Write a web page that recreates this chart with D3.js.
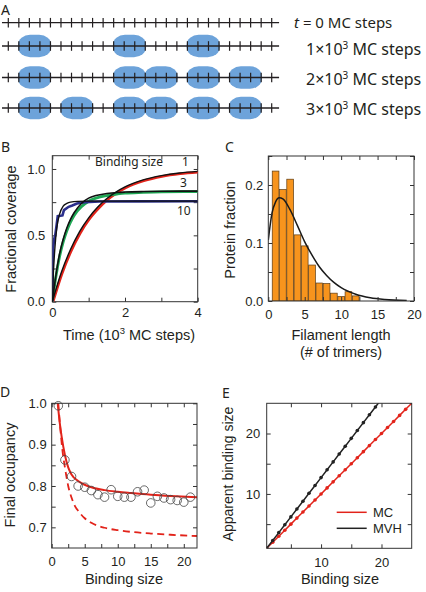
<!DOCTYPE html>
<html><head><meta charset="utf-8">
<script src="https://cdn.jsdelivr.net/npm/d3@7/dist/d3.min.js"></script>
<style>html,body{margin:0;padding:0;background:#fff;}svg{display:block;}</style>
</head><body>
<svg id="fig" width="426" height="592" xmlns="http://www.w3.org/2000/svg"></svg>
<script>
// ================= DATA =================
// Panel A: lattice sites and bound proteins (first covered site, binding size 3)
const aSites = [0,1,2,3,4,5,6,7,8,9,10,11,12,13,14,15,16,17,18,19,20,21,22,23,24,25];
const aRows = ["r0","r1","r2","r3"];
const aBoundStarts = [[], [1,10,17], [1,10,13,17,21], [1,5,10,13,17,21]];
const aBindingSize = 3;
const aRowMantissa = ["", "1", "2", "3"];

// Panel B: fractional coverage vs time (10^3 MC steps)
const bTime1 = [0,0.25,0.5,0.75,1,1.25,1.5,1.75,2,2.5,3,3.5,4];
const bCov1  = [0,0.215,0.385,0.52,0.625,0.705,0.772,0.822,0.862,0.915,0.948,0.968,0.98];
const bFit1  = [0,0.222,0.393,0.528,0.632,0.713,0.777,0.826,0.865,0.918,0.95,0.97,0.982];
const bTime3 = [0,0.1,0.2,0.3,0.4,0.5,0.6,0.8,1.0,1.2,1.5,1.8,2,2.5,3,4];
const bCov3  = [0,0.19,0.34,0.45,0.535,0.6,0.65,0.715,0.757,0.78,0.8,0.812,0.818,0.824,0.828,0.83];
const bFit3  = [0,0.2,0.36,0.47,0.555,0.62,0.67,0.74,0.78,0.8,0.815,0.823,0.826,0.83,0.832,0.833];
const bTime10 = [0,0.02,0.05,0.08,0.12,0.15,0.28,0.32,0.45,0.55,0.68,0.9,1.3,2.4,4];
const bCov10  = [0,0.4,0.47,0.5,0.58,0.645,0.65,0.69,0.715,0.725,0.74,0.75,0.755,0.756,0.757];
const bFitTime10 = [0,0.03,0.07,0.12,0.2,0.3,0.4,0.5,0.7,1,2,4];
const bFit10  = [0,0.22,0.4,0.55,0.66,0.72,0.74,0.75,0.756,0.758,0.758,0.758];
const bSizeLabels = ["1","3","10"];

// Panel C: filament length histogram
const cLength   = [1,2,3,4,5,6,7,8,9,10,11,12];
const cFraction = [0.224,0.192,0.21,0.114,0.095,0.062,0.031,0.03,0.0135,0.0078,0.016,0.0088];
const cFitX = [0,0.5,1,1.5,2,3,4,5,6,7,8,9,10,12,14,16,19];
const cFitY = [0.105,0.151,0.171,0.178,0.176,0.157,0.13,0.102,0.079,0.059,0.044,0.032,0.023,0.0116,0.0055,0.0025,0.0008];

// Panel D: final occupancy vs binding size
const dSize = [1,2,3,4,5,6,7,8,9,10,11,12,13,14,15,16,17,18,19,20,21];
const dOcc  = [0.994,0.863,0.823,0.80,0.797,0.789,0.779,0.773,0.791,0.775,0.773,0.773,0.786,0.79,0.759,0.775,0.771,0.767,0.765,0.761,0.773];
const dSolidX = [0.85,1,1.2,1.5,2,2.5,3,4,5,6,8,10,12,15,18,22];
const dSolidY = [1.01,0.985,0.955,0.92,0.875,0.845,0.828,0.812,0.803,0.797,0.79,0.786,0.783,0.779,0.776,0.773];
const dDashX = [1,1.3,1.6,2,2.5,3,3.5,4,5,6,8,10,12,15,18,22];
const dDashY = [1.0,0.94,0.89,0.845,0.8,0.772,0.752,0.74,0.722,0.711,0.699,0.693,0.689,0.685,0.682,0.679];

// Panel E: apparent binding size
const eSizeMC = [1,2,3,4,5,6,7,8,9,10,11,12,13,14,15,16,17,18,19,20,21,22,23,24,25];
const eMC     = [1,2,3,4,5,6,7,8,9,10,11,12,13,14,15,16,17,18,19,20,21,22,23,24,25];
const eSizeMVH = [1,2,3,4,5,6,7,8,9,10,11,12,13,14,15,16,17,18,19,20];
const eMVH     = [1,2.3,3.6,4.9,6.2,7.5,8.8,10.1,11.4,12.7,14,15.3,16.6,17.9,19.2,20.5,21.8,23.1,24.4,25.7];
const eLegend = ["MC","MVH"];

// ================= STYLE =================
const TFONT = "'Liberation Sans', Arial, Helvetica, sans-serif";
const HFONT = "'Noto Sans', 'Open Sans', sans-serif";
const RED = "#e2231a", GREEN = "#1fa855", NAVY = "#2b2f8c", BLUE_FILL = "#6da3da", ORANGE = "#f7941d";
const INK = "#231f20", FRAME = "#333";
const LABEL_SIZE = 14.5;

const svg = d3.select("#fig");
svg.append("rect").attr("width",426).attr("height",592).attr("fill","#fff");

function panelLetter(t, x, y) {
  svg.append("text").attr("x",x).attr("y",y).text(t)
    .attr("font-family",HFONT).attr("font-size",14).attr("fill",INK);
}

function clip(id, x, y) {
  const [x0,x1] = x.range(), [yb,yt] = y.range();
  svg.append("clipPath").attr("id",id).append("rect")
    .attr("x",x0).attr("y",yt).attr("width",x1-x0).attr("height",yb-yt);
  return `url(#${id})`;
}

function drawAxes(x, y, cfg) {
  const g = svg.append("g");
  const [x0,x1] = x.range(), [yb,yt] = y.range();
  const tk = 4;
  const fx = d => cfg.xLab.includes(d) ? cfg.xFmt(d) : "";
  const fy = d => cfg.yLab.includes(d) ? cfg.yFmt(d) : "";
  const axes = [
    [d3.axisBottom(x).tickValues(cfg.xTicks).tickSize(-tk).tickPadding(cfg.xPad).tickFormat(fx), `translate(0,${yb})`],
    [d3.axisTop(x).tickValues(cfg.xTicks).tickSize(-tk).tickFormat(""), `translate(0,${yt})`],
    [d3.axisLeft(y).tickValues(cfg.yTicks).tickSize(-tk).tickPadding(cfg.yPad).tickFormat(fy), `translate(${x0},0)`],
    [d3.axisRight(y).tickValues(cfg.yTicks).tickSize(-tk).tickFormat(""), `translate(${x1},0)`]
  ];
  axes.forEach(([ax,tr]) => {
    const a = g.append("g").attr("transform",tr).call(ax);
    a.select(".domain").remove();
    a.selectAll("line").attr("stroke",FRAME).attr("stroke-width",1);
    a.selectAll("text").attr("font-family",TFONT).attr("font-size",13).attr("fill",INK);
  });
  g.append("rect").attr("x",x0).attr("y",yt).attr("width",x1-x0).attr("height",yb-yt)
    .attr("fill","none").attr("stroke",FRAME).attr("stroke-width",1);
  return g;
}

function yLabel(text, x, y, size) {
  svg.append("text").attr("transform",`translate(${x},${y}) rotate(-90)`)
    .attr("text-anchor","middle").attr("font-family",TFONT).attr("font-size",size || LABEL_SIZE).attr("fill",INK).text(text);
}
function xLabel(text, x, y) {
  return svg.append("text").attr("x",x).attr("y",y)
    .attr("text-anchor","middle").attr("font-family",TFONT).attr("font-size",LABEL_SIZE).attr("fill",INK).text(text);
}

// ================= PANEL A =================
panelLetter("A", 1, 15);
const aX = d3.scaleLinear().domain([0,25]).range([8.3,271.7]);
const aY = d3.scaleOrdinal().domain(aRows).range([22.7,46,77.5,108]);
const aG = svg.append("g");
aRows.forEach((r,i) => {
  const yy = aY(r);
  const w = aX(aBindingSize) - aX(0) + 1.5;
  aG.selectAll(null).data(aBoundStarts[i]).join("rect")
    .attr("x", s => aX(s + aBindingSize/2) - w/2).attr("y", yy - 11.2)
    .attr("width", w).attr("height", 22.4)
    .attr("rx", 12).attr("ry", 10)
    .attr("fill", BLUE_FILL);
  aG.append("line").attr("x1",aX(-0.6)).attr("x2",aX(25.7)).attr("y1",yy).attr("y2",yy)
    .attr("stroke",INK).attr("stroke-width",1.3);
  aG.selectAll(null).data(aSites).join("line")
    .attr("x1",d=>aX(d)).attr("x2",d=>aX(d)).attr("y1",yy-4.8).attr("y2",yy+4.8)
    .attr("stroke",INK).attr("stroke-width",1.2);
});
// row labels
{
  const t0 = svg.append("text").attr("x",294).attr("y",27.5)
    .attr("font-family",HFONT).attr("font-size",15).attr("fill",INK);
  t0.append("tspan").attr("font-style","italic").text("t");
  t0.append("tspan").text(" = 0 MC steps");
  const ys = [27.5, 55, 85, 115];
  for (let i = 1; i < 4; i++) {
    const t = svg.append("text").attr("x",306).attr("y",ys[i])
      .attr("font-family",HFONT).attr("font-size",16).attr("fill",INK);
    t.append("tspan").text(aRowMantissa[i] + "\u00d710");
    t.append("tspan").attr("dy",-6.5).attr("font-size",10).text("3");
    t.append("tspan").attr("dy",6.5).text(" MC steps");
  }
}

// ================= PANEL B =================
panelLetter("B", 1, 152);
const bX = d3.scaleLinear().domain([0,4]).range([52.3,197.7]);
const bY = d3.scaleLinear().domain([0,1.1]).range([301.7,155.7]);
drawAxes(bX, bY, {xTicks:[0,1,2,3,4], xLab:[0,2,4], xFmt:d3.format("d"), xPad:6,
  yTicks:[0,0.25,0.5,0.75,1], yLab:[0,0.5,1], yFmt:d3.format(".1f"), yPad:7});
const bClip = clip("clipB", bX, bY);
const bLine = (xs, ys, curve) => d3.line().x((d,i)=>bX(xs[i])).y(d=>bY(d)).curve(curve)(ys);
const bG = svg.append("g").attr("clip-path", bClip);
bG.append("path").attr("d", bLine(bTime1,bCov1,d3.curveMonotoneX)).attr("fill","none").attr("stroke",RED).attr("stroke-width",2.6).attr("transform","translate(0.6,0.6)");
bG.append("path").attr("d", bLine(bTime3,bCov3,d3.curveMonotoneX)).attr("fill","none").attr("stroke",GREEN).attr("stroke-width",2.8);
bG.append("path").attr("d", bLine(bTime10,bCov10,d3.curveLinear)).attr("fill","none").attr("stroke",NAVY).attr("stroke-width",2.6);
bG.append("path").attr("d", bLine(bTime1,bFit1,d3.curveMonotoneX)).attr("fill","none").attr("stroke","#111").attr("stroke-width",1.4);
bG.append("path").attr("d", bLine(bTime3,bFit3,d3.curveMonotoneX)).attr("fill","none").attr("stroke","#111").attr("stroke-width",1.6);
bG.append("path").attr("d", bLine(bFitTime10,bFit10,d3.curveMonotoneX)).attr("fill","none").attr("stroke","#111").attr("stroke-width",1.4);
svg.append("text").attr("x",95).attr("y",166).attr("font-family",HFONT).attr("font-size",12).attr("fill",INK).text("Binding size");
[[182,166],[180,186.5],[177,214.5]].forEach((p,i)=>{
  svg.append("text").attr("x",p[0]).attr("y",p[1]).attr("font-family",HFONT).attr("font-size",12).attr("fill",INK).text(bSizeLabels[i]);
});
yLabel("Fractional coverage", 16, 229);
{
  const t = xLabel("", 129, 340);
  t.append("tspan").text("Time (10");
  t.append("tspan").attr("dy",-6).attr("font-size",9.5).text("3");
  t.append("tspan").attr("dy",6).text(" MC steps)");
}

// ================= PANEL C =================
panelLetter("C", 225, 152);
const cX = d3.scaleLinear().domain([0,20]).range([268.3,414]);
const cY = d3.scaleLinear().domain([0,0.25]).range([301,156]);
const cClip = clip("clipC", cX, cY);
const cG = svg.append("g").attr("clip-path", cClip);
cG.selectAll("rect").data(cLength).join("rect")
  .attr("x", (d)=>cX(d-0.46)).attr("width", cX(0.92)-cX(0))
  .attr("y", (d,i)=>cY(cFraction[i])).attr("height",(d,i)=>cY(0)-cY(cFraction[i]))
  .attr("fill",ORANGE).attr("stroke","#5b3a12").attr("stroke-width",0.7);
cG.append("path").attr("d", d3.line().x((d,i)=>cX(cFitX[i])).y(d=>cY(d)).curve(d3.curveMonotoneX)(cFitY))
  .attr("fill","none").attr("stroke","#1a1a1a").attr("stroke-width",1.5);
drawAxes(cX, cY, {xTicks:[0,2.5,5,7.5,10,12.5,15,17.5,20], xLab:[0,5,10,15,20], xFmt:d3.format("d"), xPad:9,
  yTicks:[0,0.05,0.1,0.15,0.2,0.25], yLab:[0,0.1,0.2], yFmt:d3.format(".1f"), yPad:5});
yLabel("Protein fraction", 235, 230);
xLabel("Filament length", 341, 340);
xLabel("(# of trimers)", 341, 357);

// ================= PANEL D =================
panelLetter("D", 0, 397);
const dX = d3.scaleLinear().domain([0,22]).range([51.7,197]);
const dY = d3.scaleLinear().domain([0.65,1.0]).range([548,403.3]);
const dClip = clip("clipD", dX, dY);
const dG = svg.append("g").attr("clip-path", dClip);
dG.append("path").attr("d", d3.line().x((d,i)=>dX(dDashX[i])).y(d=>dY(d)).curve(d3.curveMonotoneX)(dDashY))
  .attr("fill","none").attr("stroke",RED).attr("stroke-width",1.8).attr("stroke-dasharray","7,4.5");
dG.append("path").attr("d", d3.line().x((d,i)=>dX(dSolidX[i])).y(d=>dY(d)).curve(d3.curveMonotoneX)(dSolidY))
  .attr("fill","none").attr("stroke",RED).attr("stroke-width",2);
svg.append("g").selectAll("circle").data(dSize).join("circle")
  .attr("cx",d=>dX(d)).attr("cy",(d,i)=>dY(dOcc[i])).attr("r",4.3)
  .attr("fill","none").attr("stroke","#444").attr("stroke-width",0.8);
drawAxes(dX, dY, {xTicks:[0,2.5,5,7.5,10,12.5,15,17.5,20], xLab:[0,5,10,15,20], xFmt:d3.format("d"), xPad:9,
  yTicks:[0.7,0.75,0.8,0.85,0.9,0.95,1.0], yLab:[0.7,0.8,0.9,1.0], yFmt:d3.format(".1f"), yPad:5});
yLabel("Final occupancy", 15, 475);
xLabel("Binding size", 124, 584);

// ================= PANEL E =================
panelLetter("E", 222, 398);
const eX = d3.scaleLinear().domain([1,25]).range([266.7,411.7]);
const eY = d3.scaleLinear().domain([1,25]).range([548.3,403.3]);
const eClip = clip("clipE", eX, eY);
const eG = svg.append("g").attr("clip-path", eClip);
const eLine = (xs, ys) => d3.line().x((d,i)=>eX(xs[i])).y(d=>eY(d))(ys);
eG.append("path").attr("d", eLine(eSizeMC, eMC)).attr("fill","none").attr("stroke",RED).attr("stroke-width",1.5);
eG.selectAll(".mc").data(eSizeMC).join("circle").attr("class","mc")
  .attr("cx",d=>eX(d)).attr("cy",(d,i)=>eY(eMC[i])).attr("r",1.8).attr("fill",RED);
eG.append("path").attr("d", eLine(eSizeMVH, eMVH)).attr("fill","none").attr("stroke","#222").attr("stroke-width",1.5);
eG.selectAll(".mvh").data(eSizeMVH).join("circle").attr("class","mvh")
  .attr("cx",d=>eX(d)).attr("cy",(d,i)=>eY(eMVH[i])).attr("r",1.8).attr("fill","#222");
drawAxes(eX, eY, {xTicks:[5,10,15,20], xLab:[10,20], xFmt:d3.format("d"), xPad:9,
  yTicks:[5,10,15,20], yLab:[10,20], yFmt:d3.format("d"), yPad:6.5});
// legend
[[RED,512.3],[ "#222",528.3]].forEach((p,i)=>{
  svg.append("line").attr("x1",336.7).attr("x2",366.7).attr("y1",p[1]).attr("y2",p[1]).attr("stroke",p[0]).attr("stroke-width",1.5);
  svg.append("text").attr("x",373).attr("y",p[1]+4.5).attr("font-family",TFONT).attr("font-size",13).attr("fill",INK).text(eLegend[i]);
});
yLabel("Apparent binding size", 233, 474, 14);
xLabel("Binding size", 340, 584);
</script>
</body></html>
